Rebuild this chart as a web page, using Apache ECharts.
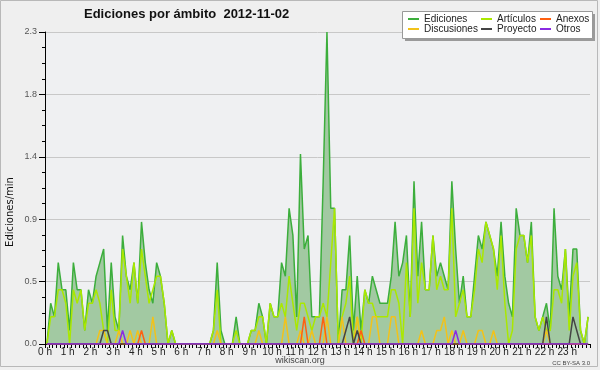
<!DOCTYPE html>
<html><head><meta charset="utf-8">
<script src="https://cdn.jsdelivr.net/npm/echarts@6/dist/echarts.min.js"></script>
<style>html,body{margin:0;padding:0;background:#efefef}#c{width:600px;height:370px}</style>
</head><body><div id="c"></div>
<script>
// 10-minute bins, 0h..24h (144 bins)
const xTickLabels = ['0 h','1 h','2 h','3 h','4 h','5 h','6 h','7 h','8 h','9 h','10 h','11 h','12 h','13 h','14 h','15 h','16 h','17 h','18 h','19 h','20 h','21 h','22 h','23 h'];
const yTickLabels = ['0.0','0.5','0.9','1.4','1.8','2.3'];
const ediciones = [
0,0.3,0.2,0.6,0.4,0.4,0.1,0.6,0.4,0.4,0.1,0.4,
0.3,0.5,0.6,0.7,0.1,0.6,0.2,0.1,0.8,0.5,0.4,0.6,
0.3,0.9,0.6,0.4,0.3,0.6,0.5,0.3,0,0.1,0,0,
0,0,0,0,0,0,0,0,0.1,0.6,0.1,0,
0,0,0.2,0,0,0,0.1,0.1,0.3,0.2,0,0.3,
0.2,0.2,0.6,0.5,1.0,0.8,0.2,1.4,0.7,0.8,0.2,0.2,
0.2,1.2,2.3,1.0,1.0,0,0.4,0.4,0.8,0.1,0.5,0.1,
0.4,0.3,0.5,0.4,0.3,0.3,0.3,0.5,0.9,0.5,0.6,0.8,
0.2,1.2,0.5,0.9,0.4,0.4,0.8,0.5,0.6,0.5,0.4,1.2,
0.7,0.3,0.5,0.2,0.2,0.5,0.8,0.7,0.9,0.8,0.7,0.5,
0.9,0.5,0.3,0.2,1.0,0.8,0.8,0.6,0.9,0.2,0.1,0.2,
0.3,0.1,1.0,0.5,0.4,0.7,0.2,0.7,0.7,0.1,0,0.2];
const articulos = [
0,0.2,0.2,0.4,0.4,0.3,0,0.4,0.3,0.4,0.1,0.3,
0.3,0.4,0.3,0.1,0,0.4,0.1,0.1,0.7,0.5,0.3,0.6,
0.3,0.7,0.5,0.3,0.4,0.5,0.5,0.3,0,0.1,0,0,
0,0,0,0,0,0,0,0,0.1,0.4,0,0,
0,0,0.1,0,0,0,0.1,0.1,0.2,0.2,0,0.3,
0.2,0.2,0.3,0.2,0.5,0.3,0.1,0.3,0.3,0.2,0.1,0.2,
0.2,0.3,0.2,0.6,1.0,0,0.2,0.3,0.5,0,0.2,0,
0.4,0.3,0.3,0.2,0.2,0.2,0.2,0.4,0.4,0.3,0,0.6,
0.2,1.0,0.3,0.6,0.4,0.4,0.8,0.4,0.5,0.4,0.4,1.0,
0.2,0.3,0.4,0.2,0.2,0.4,0.7,0.6,0.9,0.8,0.7,0.4,
0.8,0.3,0,0.1,0.7,0.8,0.8,0.6,0.8,0.2,0.1,0.2,
0.1,0.1,0.4,0.4,0.3,0.7,0.1,0.5,0.6,0.1,0,0.2];
const discusiones = [
0,0,0,0,0,0,0,0,0,0,0,0,
0,0,0.1,0.1,0,0,0,0.1,0,0,0.1,0,
0.1,0,0,0,0.2,0,0,0,0,0,0,0,
0,0,0,0,0,0,0,0,0,0.1,0,0,
0,0,0,0,0,0,0,0,0.1,0,0,0,
0,0,0,0.2,0,0,0,0.1,0,0,0.1,0,
0,0,0.2,0,0,0,0.2,0,0,0,0.2,0,
0,0,0.2,0.2,0,0,0,0.2,0.2,0,0,0,
0,0,0,0.1,0,0,0,0.1,0.1,0.2,0,0.1,
0,0,0.1,0,0,0,0.1,0.1,0,0,0.1,0,
0,0,0,0,0,0,0,0,0,0,0,0,
0.1,0,0,0,0,0,0,0,0,0,0,0];
const anexos = [
0,0,0,0,0,0,0,0,0,0,0,0,
0,0,0,0,0,0,0,0,0,0,0,0,
0,0.1,0,0,0,0,0,0,0,0,0,0,
0,0,0,0,0,0,0,0,0,0,0,0,
0,0,0,0,0,0,0,0,0,0,0,0,
0,0,0,0,0,0,0,0,0.2,0,0,0,
0,0.2,0,0,0,0,0,0,0,0,0,0.1,
0,0,0,0,0,0,0,0,0,0,0,0,
0,0,0,0,0,0,0,0,0,0,0,0,
0,0,0,0,0,0,0,0,0,0,0,0,
0,0,0,0,0,0,0,0,0,0,0,0,
0,0,0,0,0,0,0,0,0,0,0,0];
const proyecto = [
0,0,0,0,0,0,0,0,0,0,0,0,
0,0,0,0.1,0.1,0,0,0,0,0,0,0,
0,0,0,0,0,0,0,0,0,0,0,0,
0,0,0,0,0,0,0,0,0,0,0,0,
0,0,0,0,0,0,0,0,0,0,0,0,
0,0,0,0,0,0,0,0,0,0,0,0,
0,0,0,0,0,0,0,0.1,0.2,0,0.1,0,
0,0,0,0,0,0,0,0,0,0,0,0,
0,0,0,0,0,0,0,0,0,0,0,0,
0,0,0,0,0,0,0,0,0,0,0,0,
0,0,0,0,0,0,0,0,0,0,0,0,
0.2,0,0,0,0,0,0,0.2,0.1,0,0,0];
const otros = [
0,0,0,0,0,0,0,0,0,0,0,0,
0,0,0,0,0,0,0,0,0.1,0,0,0,
0,0,0,0,0,0,0,0,0,0,0,0,
0,0,0,0,0,0,0,0,0,0,0,0,
0,0,0,0,0,0,0,0,0,0,0,0,
0,0,0,0,0,0,0,0,0,0,0,0,
0,0,0,0,0,0,0,0,0,0,0,0,
0,0,0,0,0,0,0,0,0,0,0,0,
0,0,0,0,0,0,0,0,0,0,0,0,
0.1,0,0,0,0,0,0,0,0,0,0,0,
0,0,0,0,0,0,0,0,0,0,0,0,
0,0,0,0,0,0,0,0,0,0,0,0];

const FONT = "'Liberation Sans',Arial,sans-serif";
const toPts = arr => arr.map((v, i) => [i + 0.5, v]);
const chart = echarts.init(document.getElementById('c'), null, {renderer: 'canvas'});
const lineSeries = (name, data, color, extra) => Object.assign({
  name, type: 'line', data: toPts(data), showSymbol: false, symbol: 'none',
  lineStyle: {color, width: 1.5}, itemStyle: {color}, animation: false
}, extra || {});
const legendItem = (name, left, top) => ({
  data: [name], left, top, orient: 'horizontal', icon: 'rect', itemWidth: 11, itemHeight: 2,
  itemGap: 4, padding: 0, textStyle: {fontFamily: FONT, fontSize: 10, color: '#222'}, selectedMode: false
});
chart.setOption({
  backgroundColor: '#efefef',
  animation: false,
  title: {text: 'Ediciones por ámbito  2012-11-02', left: 84, top: 8, padding: 0,
    textStyle: {fontFamily: FONT, fontSize: 13, fontWeight: 'bold', color: '#111'}},
  legend: [
    legendItem('Ediciones', 408, 14), legendItem('Artículos', 481, 14), legendItem('Anexos', 540, 14),
    legendItem('Discusiones', 408, 24), legendItem('Proyecto', 481, 24), legendItem('Otros', 540, 24)
  ],
  grid: {left: 45, right: 10, top: 32, bottom: 26, show: true, backgroundColor: '#eff0f2', borderWidth: 0},
  xAxis: {type: 'value', min: 0, max: 144, interval: 6,
    axisLine: {show: true, onZero: false, lineStyle: {color: '#000', width: 1}},
    axisTick: {show: true, length: 4, lineStyle: {color: '#000'}},
    minorTick: {show: true, splitNumber: 6, length: 4, lineStyle: {color: '#000'}},
    splitLine: {show: false},
    axisLabel: {margin: 3, fontFamily: FONT, fontSize: 10, color: '#222',
      formatter: v => xTickLabels[v / 6] || ''}},
  yAxis: {type: 'value', min: 0, max: 2.3, interval: 0.46,
    axisLine: {show: true, lineStyle: {color: '#000', width: 1}},
    axisTick: {show: true, length: 6, lineStyle: {color: '#000'}},
    minorTick: {show: true, splitNumber: 4, length: 3, lineStyle: {color: '#000'}},
    splitLine: {show: true, lineStyle: {color: '#c8c8c8', width: 1}},
    axisLabel: {margin: 8, fontFamily: FONT, fontSize: 9, color: '#555',
      formatter: v => yTickLabels[Math.round(v / 0.46)]}},
  series: [
    lineSeries('Ediciones', ediciones, '#3cae3c', {areaStyle: {color: '#a2c9a2', opacity: 1}, z: 2}),
    lineSeries('Artículos', articulos, '#aae800', {z: 3}),
    lineSeries('Discusiones', discusiones, '#f2c21a', {z: 4}),
    lineSeries('Anexos', anexos, '#ff6010', {z: 5}),
    lineSeries('Proyecto', proyecto, '#444444', {z: 6}),
    lineSeries('Otros', otros, '#8a2be2', {z: 7})
  ],
  graphic: [
    {type: 'rect', shape: {x: 0.5, y: 0.5, width: 597, height: 366}, style: {fill: null, stroke: '#b8b8b8', lineWidth: 1}, silent: true, z: -10},
    {type: 'rect', shape: {x: 405, y: 14, width: 190, height: 27}, style: {fill: '#9a9a9a'}, silent: true, z: 0},
    {type: 'rect', shape: {x: 402.5, y: 11.5, width: 190, height: 27}, style: {fill: '#ffffff', stroke: '#999', lineWidth: 1}, silent: true, z: 1},
    {type: 'text', x: 10, y: 212, rotation: Math.PI / 2, style: {text: 'Ediciones/min', font: "10px 'DejaVu Sans',sans-serif", fill: '#111', align: 'center', verticalAlign: 'middle'}, silent: true},
    {type: 'text', x: 300, y: 361, style: {text: 'wikiscan.org', font: "9px 'Liberation Sans',sans-serif", fill: '#444', align: 'center', verticalAlign: 'middle'}, silent: true},
    {type: 'text', x: 590, y: 363, style: {text: 'CC BY-SA 3.0', font: "6px 'Liberation Sans',sans-serif", fill: '#444', align: 'right', verticalAlign: 'middle'}, silent: true}
  ]
});
</script></body></html>
